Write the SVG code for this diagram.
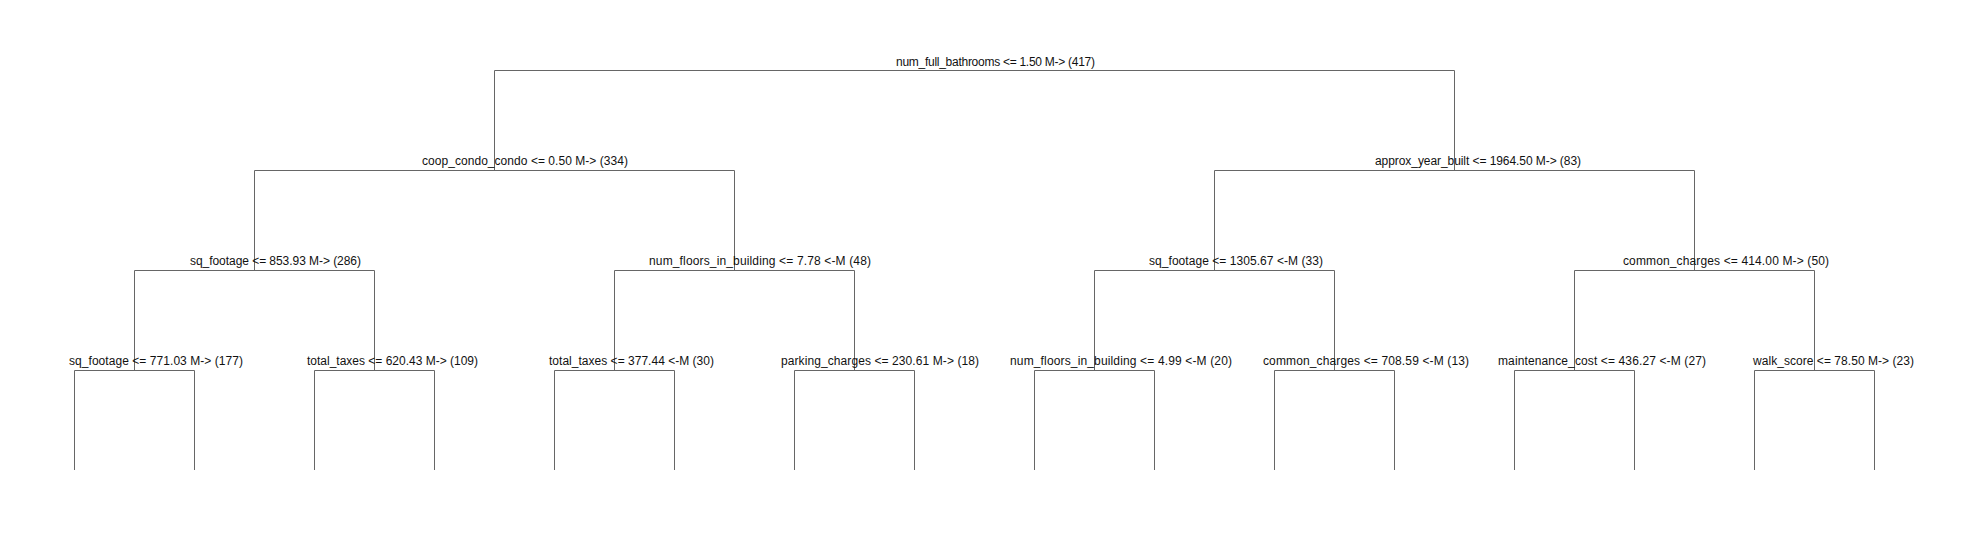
<svg xmlns="http://www.w3.org/2000/svg" width="1983" height="540" viewBox="0 0 1983 540">
<style>
.bg{fill:#ffffff}
.c{fill:none;stroke:#666666;stroke-width:1}
.t{font-family:"Liberation Sans",Arial,sans-serif;font-size:12px;fill:#111111}
</style>
<rect class="bg" x="0" y="0" width="1983" height="540"/>
<g id="connectors" class="c">
<path d="M494.5 170.5 V70.5 H1454.5 V170.5"/>
<path d="M254.5 270.5 V170.5 H734.5 V270.5"/>
<path d="M1214.5 270.5 V170.5 H1694.5 V270.5"/>
<path d="M134.5 370.5 V270.5 H374.5 V370.5"/>
<path d="M614.5 370.5 V270.5 H854.5 V370.5"/>
<path d="M1094.5 370.5 V270.5 H1334.5 V370.5"/>
<path d="M1574.5 370.5 V270.5 H1814.5 V370.5"/>
<path d="M74.5 470 V370.5 H194.5 V470"/>
<path d="M314.5 470 V370.5 H434.5 V470"/>
<path d="M554.5 470 V370.5 H674.5 V470"/>
<path d="M794.5 470 V370.5 H914.5 V470"/>
<path d="M1034.5 470 V370.5 H1154.5 V470"/>
<path d="M1274.5 470 V370.5 H1394.5 V470"/>
<path d="M1514.5 470 V370.5 H1634.5 V470"/>
<path d="M1754.5 470 V370.5 H1874.5 V470"/>
</g>
<g id="n_root"><text class="t" x="896" y="66" textLength="199">num_full_bathrooms &lt;= 1.50 M-&gt; (417)</text></g>
<g id="n_coop"><text class="t" x="422" y="165" textLength="206">coop_condo_condo &lt;= 0.50 M-&gt; (334)</text></g>
<g id="n_year"><text class="t" x="1375" y="165" textLength="206">approx_year_built &lt;= 1964.50 M-&gt; (83)</text></g>
<g id="n_sq1"><text class="t" x="190" y="265" textLength="171">sq_footage &lt;= 853.93 M-&gt; (286)</text></g>
<g id="n_floors1"><text class="t" x="649" y="265" textLength="222">num_floors_in_building &lt;= 7.78 &lt;-M (48)</text></g>
<g id="n_sq2"><text class="t" x="1149" y="265" textLength="174">sq_footage &lt;= 1305.67 &lt;-M (33)</text></g>
<g id="n_common1"><text class="t" x="1623" y="265" textLength="206">common_charges &lt;= 414.00 M-&gt; (50)</text></g>
<g id="n_sq3"><text class="t" x="69" y="365" textLength="174">sq_footage &lt;= 771.03 M-&gt; (177)</text></g>
<g id="n_tax1"><text class="t" x="307" y="365" textLength="171">total_taxes &lt;= 620.43 M-&gt; (109)</text></g>
<g id="n_tax2"><text class="t" x="549" y="365" textLength="165">total_taxes &lt;= 377.44 &lt;-M (30)</text></g>
<g id="n_parking"><text class="t" x="781" y="365" textLength="198">parking_charges &lt;= 230.61 M-&gt; (18)</text></g>
<g id="n_floors2"><text class="t" x="1010" y="365" textLength="222">num_floors_in_building &lt;= 4.99 &lt;-M (20)</text></g>
<g id="n_common2"><text class="t" x="1263" y="365" textLength="206">common_charges &lt;= 708.59 &lt;-M (13)</text></g>
<g id="n_maint"><text class="t" x="1498" y="365" textLength="208">maintenance_cost &lt;= 436.27 &lt;-M (27)</text></g>
<g id="n_walk"><text class="t" x="1753" y="365" textLength="161">walk_score &lt;= 78.50 M-&gt; (23)</text></g>
</svg>
